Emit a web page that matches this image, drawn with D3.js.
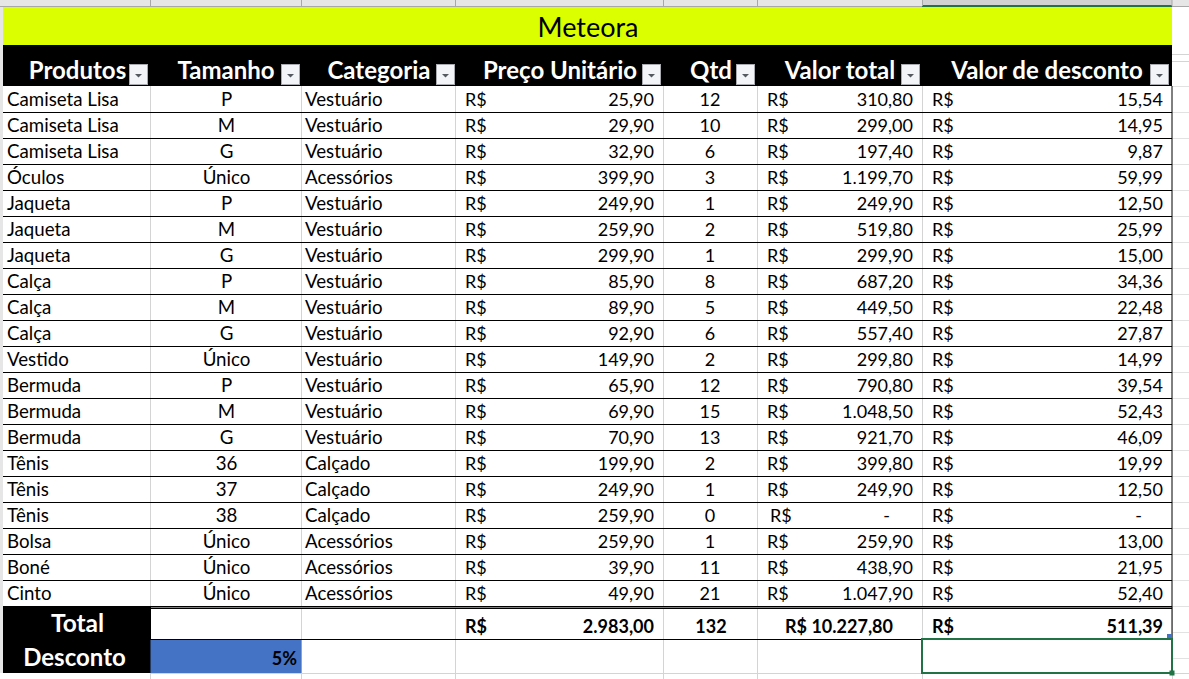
<!DOCTYPE html>
<html lang="en">
<head>
<meta charset="utf-8">
<title>Meteora</title>
<script src="https://d3js.org/d3.v7.min.js"></script>
<style>
html, body { margin: 0; padding: 0; background: #fff; }
svg { display: block; }
text { font-family: Lato, "Noto Sans", sans-serif; fill: #000; }
</style>
</head>
<body>
<svg width="1189" height="679"></svg>
<script>
var titulo = "Meteora";
var cabecalhos = ["Produtos", "Tamanho", "Categoria", "Preço Unitário", "Qtd", "Valor total", "Valor de desconto"];
var produtos = ["Camiseta Lisa","Camiseta Lisa","Camiseta Lisa","Óculos","Jaqueta","Jaqueta","Jaqueta","Calça","Calça","Calça","Vestido","Bermuda","Bermuda","Bermuda","Tênis","Tênis","Tênis","Bolsa","Boné","Cinto"];
var tamanhos = ["P","M","G","Único","P","M","G","P","M","G","Único","P","M","G","36","37","38","Único","Único","Único"];
var categorias = ["Vestuário","Vestuário","Vestuário","Acessórios","Vestuário","Vestuário","Vestuário","Vestuário","Vestuário","Vestuário","Vestuário","Vestuário","Vestuário","Vestuário","Calçado","Calçado","Calçado","Acessórios","Acessórios","Acessórios"];
var precos = [25.90,29.90,32.90,399.90,249.90,259.90,299.90,85.90,89.90,92.90,149.90,65.90,69.90,70.90,199.90,249.90,259.90,259.90,39.90,49.90];
var qtds = [12,10,6,3,1,2,1,8,5,6,2,12,15,13,2,1,0,1,11,21];
var totais = [310.80,299.00,197.40,1199.70,249.90,519.80,299.90,687.20,449.50,557.40,299.80,790.80,1048.50,921.70,399.80,249.90,0,259.90,438.90,1047.90];
var descontos = [15.54,14.95,9.87,59.99,12.50,25.99,15.00,34.36,22.48,27.87,14.99,39.54,52.43,46.09,19.99,12.50,0,13.00,21.95,52.40];
var totalPreco = 2983.00, totalQtd = 132, totalValor = 10227.80, totalDesconto = 511.39, taxaDesconto = 0.05;

var svg = d3.select("svg");

// column edges and row grid
var colX = [3, 150.5, 301.5, 455.5, 663.5, 757.5, 922.5, 1172];
var rowH = 26;
var y = d3.scaleLinear().domain([0, produtos.length]).range([86, 86 + rowH * produtos.length]);

var br = d3.formatLocale({decimal: ",", thousands: ".", grouping: [3], currency: ["R$", ""]});
var money = br.format(",.2f");

function rect(x, yy, w, h, fill) {
  return svg.append("rect").attr("x", x).attr("y", yy).attr("width", w).attr("height", h).attr("fill", fill);
}
function line(x1, y1, x2, y2, color, w) {
  return svg.append("line").attr("x1", x1).attr("y1", y1).attr("x2", x2).attr("y2", y2)
    .attr("stroke", color).attr("stroke-width", w || 1);
}
function label(t, x, yy, anchor, size, weight, color) {
  return svg.append("text").attr("x", x).attr("y", yy).attr("text-anchor", anchor)
    .attr("font-size", size).attr("font-weight", weight || 400).style("fill", color || "#000").text(t);
}

// sheet column strip
rect(0, 0, 1189, 6, "#e6e6e6");
rect(922, 0, 250, 6, "#d2d2d2");
line(0, 6.5, 1189, 6.5, "#a8a8a8");
line(922, 6, 1172, 6, "#217346", 2);
colX.slice(1).forEach(function (x) { line(x, 0, x, 6, "#a8a8a8"); });
rect(0, 7, 3, 666, "#e6e6e6");

// faint sheet gridlines outside the table
line(1172, 54.5, 1189, 54.5, "#d4d4d4");
line(1172, 61.5, 1189, 61.5, "#d4d4d4");
d3.range(0, 23).forEach(function (i) { line(1172, 86.5 + i * rowH, 1189, 86.5 + i * rowH, "#e2e2e2"); });
colX.slice(1, 7).forEach(function (x) { line(x, 86, x, 606, "#d4d4d4"); });
colX.slice(1, 7).forEach(function (x) { line(x, 608, x, 679, "#d4d4d4"); });
line(150, 673.5, 1189, 673.5, "#d4d4d4");
line(1172.5, 606, 1172.5, 679, "#d4d4d4");

// title and header band
rect(3, 7, 1169, 38, "#dcff00");
label(titulo, 588, 37, "middle", 27);
rect(3, 45, 1169, 41, "#000");

var headerCenters = [77.5, 226, 379, 560, 711, 840, 1047];
var filterX = [129, 281, 436, 642, 736, 901, 1150];
cabecalhos.forEach(function (h, i) {
  label(h, headerCenters[i], 79, "middle", 24, 700, "#fff");
  var g = svg.append("g").attr("transform", "translate(" + filterX[i] + ",64)");
  g.append("rect").attr("x", 0.5).attr("y", 0.5).attr("width", 18).attr("height", 20)
    .attr("fill", "#f3f4f7").attr("stroke", "#a9abb0");
  g.append("path").attr("d", "M6,10 h7 l-3.5,3.5 z").attr("fill", "#55585e");
});

// body rows
var rows = svg.append("g").selectAll("g").data(d3.range(produtos.length)).join("g")
  .attr("transform", function (i) { return "translate(0," + y(i) + ")"; });

rows.append("line").attr("x1", 3).attr("x2", 1172).attr("y1", rowH + 0.5).attr("y2", rowH + 0.5)
  .attr("stroke", "#000");

function col(fn, x, anchor, size) {
  rows.append("text").attr("x", x).attr("y", 19.5).attr("text-anchor", anchor)
    .attr("font-size", size || 18).text(fn);
}
col(function (i) { return produtos[i]; }, 7, "start", 18.7);
col(function (i) { return tamanhos[i]; }, 226.5, "middle", 18.7);
col(function (i) { return categorias[i]; }, 305, "start", 18.7);
col(function () { return "R$"; }, 465, "start");
col(function (i) { return money(precos[i]); }, 654, "end");
col(function (i) { return qtds[i]; }, 710, "middle");
col(function (i) { return totais[i] ? "R$" : ""; }, 767, "start");
col(function (i) { return totais[i] ? "" : "R$"; }, 770, "start");
col(function (i) { return totais[i] ? money(totais[i]) : ""; }, 913, "end");
col(function (i) { return totais[i] ? "" : "-"; }, 890, "end");
col(function () { return "R$"; }, 932, "start");
col(function (i) { return descontos[i] ? money(descontos[i]) : ""; }, 1163, "end");
col(function (i) { return descontos[i] ? "" : "-"; }, 1142, "end");

// footer
rect(3, 606, 148, 67, "#000");
rect(150.5, 640, 151, 33, "#4472c4");
line(150, 607, 1172, 607, "#000");
line(150, 608.5, 1172, 608.5, "#000");
line(3, 639.5, 1172, 639.5, "#000");
label("Total", 77.5, 632, "middle", 24.5, 700, "#fff");
label("Desconto", 74.5, 665.5, "middle", 24, 700, "#fff");
label(d3.format(".0%")(taxaDesconto), 297, 665, "end", 18, 700);
label("R$", 465, 633, "start", 18, 700);
label(money(totalPreco), 654, 633, "end", 18, 700);
label(totalQtd, 711, 633, "middle", 18, 700);
label("R$ " + money(totalValor), 893, 633, "end", 18, 700);
label("R$", 932, 633, "start", 18, 700);
label(money(totalDesconto), 1163, 633, "end", 18, 700);

// right border and selected cell
line(1172, 86, 1172, 640, "#000");
svg.append("rect").attr("x", 922).attr("y", 639).attr("width", 250).attr("height", 34)
  .attr("fill", "none").attr("stroke", "#217346").attr("stroke-width", 2);
rect(1169.5, 670.5, 5, 5, "#217346");
rect(1167, 634, 5, 4, "#4472c4");
</script>
</body>
</html>
